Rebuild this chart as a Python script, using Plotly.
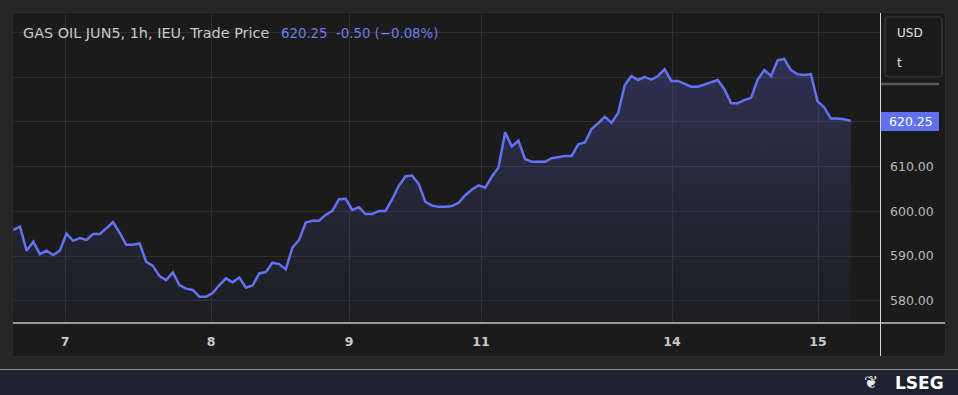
import plotly.graph_objects as go

# ---- data (hourly trade prices) ----
prices = [
    595.8, 596.6, 591.2, 593.2, 590.4, 591.2, 590.2, 591.2, 595.0, 593.4,
    594.0, 593.6, 594.9, 594.9, 596.2, 597.6, 595.2, 592.5, 592.5, 592.8,
    588.7, 587.8, 585.5, 584.6, 586.3, 583.5, 582.7, 582.4, 580.9, 580.9,
    581.7, 583.5, 585.0, 584.1, 585.2, 582.9, 583.4, 586.1, 586.4, 588.5,
    588.2, 587.0, 591.9, 593.6, 597.5, 597.9, 597.9, 599.2, 600.1, 602.7,
    602.8, 600.3, 600.9, 599.4, 599.4, 600.1, 600.1, 602.7, 605.7, 607.8,
    608.0, 606.1, 602.1, 601.3, 601.0, 601.0, 601.2, 601.9, 603.6, 604.9,
    605.8, 605.3, 607.8, 609.8, 617.7, 614.5, 615.8, 611.7, 611.1, 611.1,
    611.1, 611.9, 612.1, 612.4, 612.4, 615.0, 615.4, 618.4, 619.7, 621.2,
    619.8, 622.0, 628.3, 630.3, 629.4, 630.1, 629.5, 630.3, 631.8, 629.2,
    629.2, 628.5, 627.9, 627.9, 628.4, 628.9, 629.4, 627.3, 624.2, 624.2,
    624.9, 625.4, 629.5, 631.6, 630.3, 633.8, 634.1, 631.6, 630.7, 630.5,
    630.7, 624.6, 623.3, 620.8, 620.8, 620.6, 620.25,
]
hours = list(range(len(prices)))

day_tick_pos = [7.78, 29.75, 50.51, 70.37, 99.11, 121.08]
day_tick_labels = ["7", "8", "9", "11", "14", "15"]

y_tick_vals = [580, 590, 600, 610, 620, 630, 640]
y_tick_text = ["580.00", "590.00", "600.00", "610.00", "", "", ""]

last_price = "620.25"
title_text = "GAS OIL JUN5, 1h, IEU, Trade Price"
change_text = "620.25&nbsp;&nbsp;-0.50 (\u22120.08%)"

# ---- layout geometry (pixels) ----
W, H = 958, 395
L, R, T, B = 13, 880, 13, 323


def px(x):
    return (x - L) / (R - L)


def py(y):
    return (B - y) / (B - T)


LINE = "#6272f2"
FONT = "DejaVu Sans"

fig = go.Figure()
fig.add_trace(go.Scatter(
    x=hours, y=prices, mode="lines",
    line=dict(color=LINE, width=2.5),
    fill="tozeroy",
    fillgradient=dict(
        type="vertical",
        colorscale=[[0, "rgba(98,114,242,0.03)"], [1, "rgba(98,114,242,0.25)"]],
        start=575, stop=634,
    ),
    hoverinfo="skip", showlegend=False,
))

shapes = []
# chart panel
shapes.append(dict(type="rect", xref="paper", yref="paper", layer="below",
                   x0=px(12.5), x1=px(945.5), y0=py(356.5), y1=py(12.5),
                   fillcolor="#1b1b1b", line=dict(color="#2d2d2d", width=1)))
# footer band
shapes.append(dict(type="rect", xref="paper", yref="paper", layer="below",
                   x0=px(0), x1=px(958), y0=py(395), y1=py(369.5),
                   fillcolor="#1d2130", line=dict(width=0)))
shapes.append(dict(type="line", xref="paper", yref="paper",
                   x0=px(0), x1=px(958), y0=py(369.5), y1=py(369.5),
                   line=dict(color="#8c8c8c", width=1.2)))
# x axis base line
shapes.append(dict(type="line", xref="paper", yref="paper",
                   x0=px(13), x1=px(945), y0=py(323), y1=py(323),
                   line=dict(color="#9a9a9a", width=2)))
# right separator line
shapes.append(dict(type="line", xref="paper", yref="paper",
                   x0=px(880.5), x1=px(880.5), y0=py(13), y1=py(356),
                   line=dict(color="#d6d6d6", width=1)))
# USD/t box
shapes.append(dict(type="path", xref="paper", yref="paper",
                   path=(
                       f"M {px(889)} {py(17)} L {px(938)} {py(17)} "
                       f"Q {px(942)} {py(17)} {px(942)} {py(21)} "
                       f"L {px(942)} {py(73)} Q {px(942)} {py(77)} {px(938)} {py(77)} "
                       f"L {px(889)} {py(77)} Q {px(885)} {py(77)} {px(885)} {py(73)} "
                       f"L {px(885)} {py(21)} Q {px(885)} {py(17)} {px(889)} {py(17)} Z"
                   ),
                   fillcolor="#1b1b1b", line=dict(color="#3b3b3b", width=1.2)))
# grey bar under unit box
shapes.append(dict(type="line", xref="paper", yref="paper",
                   x0=px(881), x1=px(939), y0=py(84), y1=py(84),
                   line=dict(color="#575757", width=2.5)))
# last-price badge
shapes.append(dict(type="rect", xref="paper", yref="paper",
                   x0=px(881), x1=px(939), y0=py(131), y1=py(112),
                   fillcolor="#5f70f0", line=dict(width=0)))

annotations = [
    dict(xref="paper", yref="paper", x=px(21), y=py(33), xanchor="left", yanchor="middle",
         showarrow=False, align="left", text=title_text,
         font=dict(family=FONT, size=14.4, color="#c9c9c9")),
    dict(xref="paper", yref="paper", x=px(279), y=py(33), xanchor="left", yanchor="middle",
         showarrow=False, align="left", text=change_text,
         font=dict(family=FONT, size=13.3, color="#6f7ee8")),
    dict(xref="paper", yref="paper", x=px(895), y=py(33), xanchor="left", yanchor="middle",
         showarrow=False, text="USD", font=dict(family=FONT, size=12, color="#e2e2e2")),
    dict(xref="paper", yref="paper", x=px(895), y=py(63), xanchor="left", yanchor="middle",
         showarrow=False, text="t", font=dict(family=FONT, size=12, color="#e2e2e2")),
    dict(xref="paper", yref="paper", x=px(911), y=py(121.5), xanchor="center", yanchor="middle",
         showarrow=False, text=last_price, font=dict(family=FONT, size=12.5, color="#ffffff")),
    dict(xref="paper", yref="paper", x=px(946), y=py(382.5), xanchor="right", yanchor="middle",
         showarrow=False, text="<b>LSEG</b>", font=dict(family=FONT, size=17, color="#ffffff")),
    dict(xref="paper", yref="paper", x=px(871), y=py(381.5), xanchor="center", yanchor="middle",
         showarrow=False, text="\u2766", font=dict(family="DejaVu Sans", size=17, color="#e8e8e8")),
]

fig.update_layout(
    width=W, height=H,
    margin=dict(l=L, r=W - R, t=T, b=H - B, pad=0),
    paper_bgcolor="#262626",
    plot_bgcolor="rgba(0,0,0,0)",
    shapes=shapes,
    annotations=annotations,
    showlegend=False,
    xaxis=dict(
        range=[-0.045, 130.4], tickmode="array",
        tickvals=day_tick_pos, ticktext=day_tick_labels,
        showgrid=True, gridcolor="#2e2e2e", gridwidth=1,
        zeroline=False, showline=False, ticks="",
        ticklabelstandoff=9,
        tickfont=dict(family=FONT, size=12.5, color="#c9c9c9", weight="bold"),
        fixedrange=True,
    ),
    yaxis=dict(
        range=[575.0, 644.4], side="right", tickmode="array",
        tickvals=y_tick_vals, ticktext=y_tick_text,
        showgrid=True, gridcolor="#2e2e2e", gridwidth=1,
        zeroline=False, showline=False, ticks="",
        ticklabelstandoff=9,
        tickfont=dict(family=FONT, size=12.5, color="#b9b9b9"),
        fixedrange=True,
    ),
)

fig.write_html(
    "out.html",
    config={"displayModeBar": False},
    post_script="document.body.style.margin='0';document.body.style.padding='0';",
)
